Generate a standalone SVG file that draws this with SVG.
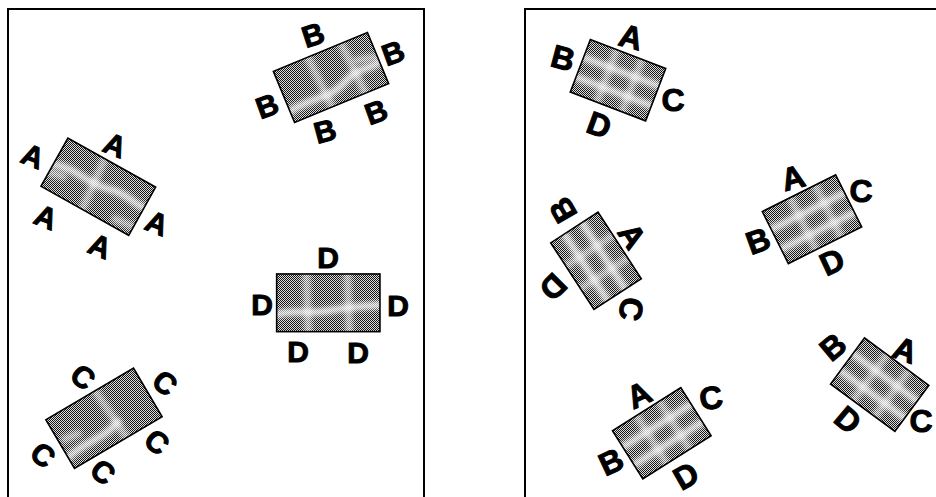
<svg xmlns="http://www.w3.org/2000/svg" width="936" height="497" viewBox="0 0 936 497">
<style>
.frame{fill:none;stroke:#000;stroke-width:2}
.edge{fill:none;stroke:#000;stroke-width:1.6}
.tone{fill:url(#dots)}
.streak{fill:none;stroke:#fff;stroke-width:7;stroke-linecap:round;opacity:0.8;filter:url(#soft)}
.faint{opacity:0.55}
.lbl{font-family:"Liberation Sans",Arial,sans-serif;font-weight:bold;font-size:30px;text-anchor:middle;dominant-baseline:central;fill:#000;stroke:#000;stroke-width:1;stroke-linejoin:round}
.lbl2{font-family:"Liberation Sans",Arial,sans-serif;font-weight:bold;font-size:32px;text-anchor:middle;dominant-baseline:central;fill:#000;stroke:#000;stroke-width:1;stroke-linejoin:round}
</style>
<defs>
<pattern id="dots" width="2" height="2" patternUnits="userSpaceOnUse">
<rect width="2" height="2" fill="#dcdcdc"/>
<rect width="1" height="1" fill="#151515"/>
<rect x="1" y="1" width="1" height="1" fill="#151515"/>
</pattern>
<filter id="soft" filterUnits="userSpaceOnUse" x="-80" y="-60" width="160" height="120"><feGaussianBlur stdDeviation="2.6"/></filter>
<clipPath id="c-LA"><rect x="-50.25" y="-27.6" width="100.5" height="55.2" transform="translate(98.3,186.7) rotate(29.2)"/></clipPath>
<clipPath id="c-LB"><rect x="-50.9" y="-27.7" width="101.8" height="55.4" transform="translate(331,77.5) rotate(-22.5)"/></clipPath>
<clipPath id="c-LC"><rect x="-50.85" y="-28.2" width="101.7" height="56.4" transform="translate(104,418.3) rotate(-30.5)"/></clipPath>
<clipPath id="c-LD"><rect x="-51.65" y="-28.85" width="103.3" height="57.7" transform="translate(328.3,302.8)"/></clipPath>
<clipPath id="c-R1"><rect x="-40.35" y="-28.05" width="80.7" height="56.1" transform="translate(618,80.2) rotate(21)"/></clipPath>
<clipPath id="c-R2"><rect x="-41" y="-29.1" width="82" height="58.2" transform="translate(812,219.2) rotate(-26.6)"/></clipPath>
<clipPath id="c-R3"><rect x="-39.7" y="-28.2" width="79.4" height="56.4" transform="translate(596,260.8) rotate(57)"/></clipPath>
<clipPath id="c-R4"><rect x="-40.35" y="-28.45" width="80.7" height="56.9" transform="translate(661.8,433.3) rotate(-32.2)"/></clipPath>
<clipPath id="c-R5"><rect x="-39.95" y="-28.6" width="79.9" height="57.2" transform="translate(879.7,384.7) rotate(36.4)"/></clipPath>
</defs>
<rect width="936" height="497" fill="#fff"/>
<g id="frames">
<path class="frame" d="M8,498 V9 H424 V498"/>
<path class="frame" d="M525,498 V9 H937"/>
</g>

<g id="left-A">
<g clip-path="url(#c-LA)">
<rect class="tone" x="0" y="0" width="936" height="497"/>
<g transform="translate(98.3,186.7) rotate(29.2)">
<path class="streak" d="M-52,3 C-30,-6 -10,3 10,-3 S40,-1 52,-4"/>
<path class="streak faint" d="M-8,-30 L-3,30"/>
<path class="streak faint" d="M-52,12 L-35,8"/>
<path class="streak faint" d="M30,20 L50,18"/>
</g>
</g>
<rect class="edge" x="-50.25" y="-27.6" width="100.5" height="55.2" transform="translate(98.3,186.7) rotate(29.2)"/>
<text class="lbl" transform="translate(33,156) rotate(22)">A</text>
<text class="lbl" transform="translate(115,145) rotate(22)">A</text>
<text class="lbl" transform="translate(46,217) rotate(22)">A</text>
<text class="lbl" transform="translate(157,223) rotate(22)">A</text>
<text class="lbl" transform="translate(100,246) rotate(22)">A</text>
</g>

<g id="left-B">
<g clip-path="url(#c-LB)">
<rect class="tone" x="0" y="0" width="936" height="497"/>
<g transform="translate(331,77.5) rotate(-22.5)">
<path class="streak" d="M-52,16 C-30,10 -10,20 10,10 S40,8 52,4"/>
<path class="streak faint" d="M-14,-30 L-10,30"/>
<path class="streak faint" d="M22,-30 L26,30"/>
<path class="streak faint" d="M30,-6 L50,-2"/>
</g>
</g>
<rect class="edge" x="-50.9" y="-27.7" width="101.8" height="55.4" transform="translate(331,77.5) rotate(-22.5)"/>
<text class="lbl" transform="translate(313,35) rotate(-18)">B</text>
<text class="lbl" transform="translate(393,53) rotate(-20)">B</text>
<text class="lbl" transform="translate(267,106) rotate(-20)">B</text>
<text class="lbl" transform="translate(325,131) rotate(-15)">B</text>
<text class="lbl" transform="translate(376,112) rotate(-20)">B</text>
</g>

<g id="left-C">
<g clip-path="url(#c-LC)">
<rect class="tone" x="0" y="0" width="936" height="497"/>
<g transform="translate(104,418.3) rotate(-30.5)">
<path class="streak" d="M-52,16 C-30,10 -10,18 10,10"/>
<path class="streak faint" d="M6,-30 L10,30"/>
<path class="streak faint" d="M-45,-2 L-30,0"/>
</g>
</g>
<rect class="edge" x="-50.85" y="-28.2" width="101.7" height="56.4" transform="translate(104,418.3) rotate(-30.5)"/>
<text class="lbl" transform="translate(83,377) rotate(40)">C</text>
<text class="lbl" transform="translate(165,383) rotate(40)">C</text>
<text class="lbl" transform="translate(43,455) rotate(40)">C</text>
<text class="lbl" transform="translate(103,472) rotate(40)">C</text>
<text class="lbl" transform="translate(157,442) rotate(40)">C</text>
</g>

<g id="left-D">
<g clip-path="url(#c-LD)">
<rect class="tone" x="0" y="0" width="936" height="497"/>
<g transform="translate(328.3,302.8)">
<path class="streak" d="M-53,12 C-35,6 -20,12 0,8 S35,4 53,2"/>
<path class="streak faint" d="M-22,-30 L-20,30"/>
<path class="streak faint" d="M19,-30 L21,30"/>
</g>
</g>
<rect class="edge" x="-51.65" y="-28.85" width="103.3" height="57.7" transform="translate(328.3,302.8)"/>
<text class="lbl" x="328" y="257">D</text>
<text class="lbl" x="262" y="304">D</text>
<text class="lbl" x="398" y="305">D</text>
<text class="lbl" x="298" y="351">D</text>
<text class="lbl" x="358" y="352">D</text>
</g>

<g id="right-1">
<g clip-path="url(#c-R1)">
<rect class="tone" x="0" y="0" width="936" height="497"/>
<g transform="translate(618,80.2) rotate(21)">
<path class="streak" d="M-42,-9 L42,-9"/>
<path class="streak" d="M-42,12 L42,12"/>
<path class="streak faint" d="M-12,-30 L-12,30"/>
<path class="streak faint" d="M15,-30 L15,30"/>
</g>
</g>
<rect class="edge" x="-40.35" y="-28.05" width="80.7" height="56.1" transform="translate(618,80.2) rotate(21)"/>
<text class="lbl2" transform="translate(631,37) rotate(15)">A</text>
<text class="lbl2" transform="translate(563,58) rotate(15)">B</text>
<text class="lbl2" transform="translate(673,100)">C</text>
<text class="lbl2" transform="translate(599,125) rotate(20)">D</text>
</g>

<g id="right-2">
<g clip-path="url(#c-R2)">
<rect class="tone" x="0" y="0" width="936" height="497"/>
<g transform="translate(812,219.2) rotate(-26.6)">
<path class="streak" d="M-42,-9 L42,-9"/>
<path class="streak" d="M-42,13 L42,13"/>
<path class="streak faint" d="M-10,-30 L-10,30"/>
<path class="streak faint" d="M18,-30 L18,30"/>
</g>
</g>
<rect class="edge" x="-41" y="-29.1" width="82" height="58.2" transform="translate(812,219.2) rotate(-26.6)"/>
<text class="lbl2" transform="translate(793,178) rotate(-15)">A</text>
<text class="lbl2" transform="translate(861,191)">C</text>
<text class="lbl2" transform="translate(758,241) rotate(-20)">B</text>
<text class="lbl2" transform="translate(832,262) rotate(-25)">D</text>
</g>

<g id="right-3">
<g clip-path="url(#c-R3)">
<rect class="tone" x="0" y="0" width="936" height="497"/>
<g transform="translate(596,260.8) rotate(57)">
<path class="streak" d="M-42,-9 L42,-9"/>
<path class="streak" d="M-42,12 L42,12"/>
<path class="streak faint" d="M-12,-30 L-12,30"/>
<path class="streak faint" d="M15,-30 L15,30"/>
</g>
</g>
<rect class="edge" x="-39.7" y="-28.2" width="79.4" height="56.4" transform="translate(596,260.8) rotate(57)"/>
<text class="lbl2" transform="translate(563,210) rotate(-120)">B</text>
<text class="lbl2" transform="translate(632,236) rotate(57)">A</text>
<text class="lbl2" transform="translate(553,287) rotate(135)">D</text>
<text class="lbl2" transform="translate(631,309) rotate(100)">C</text>
</g>

<g id="right-4">
<g clip-path="url(#c-R4)">
<rect class="tone" x="0" y="0" width="936" height="497"/>
<g transform="translate(661.8,433.3) rotate(-32.2)">
<path class="streak" d="M-42,-9 L42,-9"/>
<path class="streak" d="M-42,12 L42,12"/>
<path class="streak faint" d="M-12,-30 L-12,30"/>
<path class="streak faint" d="M15,-30 L15,30"/>
</g>
</g>
<rect class="edge" x="-40.35" y="-28.45" width="80.7" height="56.9" transform="translate(661.8,433.3) rotate(-32.2)"/>
<text class="lbl2" transform="translate(639,395) rotate(-25)">A</text>
<text class="lbl2" transform="translate(711,398) rotate(-10)">C</text>
<text class="lbl2" transform="translate(611,462) rotate(-25)">B</text>
<text class="lbl2" transform="translate(686,476) rotate(-30)">D</text>
</g>

<g id="right-5">
<g clip-path="url(#c-R5)">
<rect class="tone" x="0" y="0" width="936" height="497"/>
<g transform="translate(879.7,384.7) rotate(36.4)">
<path class="streak" d="M-42,-9 L42,-9"/>
<path class="streak" d="M-42,12 L42,12"/>
<path class="streak faint" d="M-12,-30 L-12,30"/>
<path class="streak faint" d="M15,-30 L15,30"/>
</g>
</g>
<rect class="edge" x="-39.95" y="-28.6" width="79.9" height="57.2" transform="translate(879.7,384.7) rotate(36.4)"/>
<text class="lbl2" transform="translate(833,347) rotate(-40)">B</text>
<text class="lbl2" transform="translate(905,350) rotate(20)">A</text>
<text class="lbl2" transform="translate(848,420) rotate(40)">D</text>
<text class="lbl2" transform="translate(921,421)">C</text>
</g>
</svg>
